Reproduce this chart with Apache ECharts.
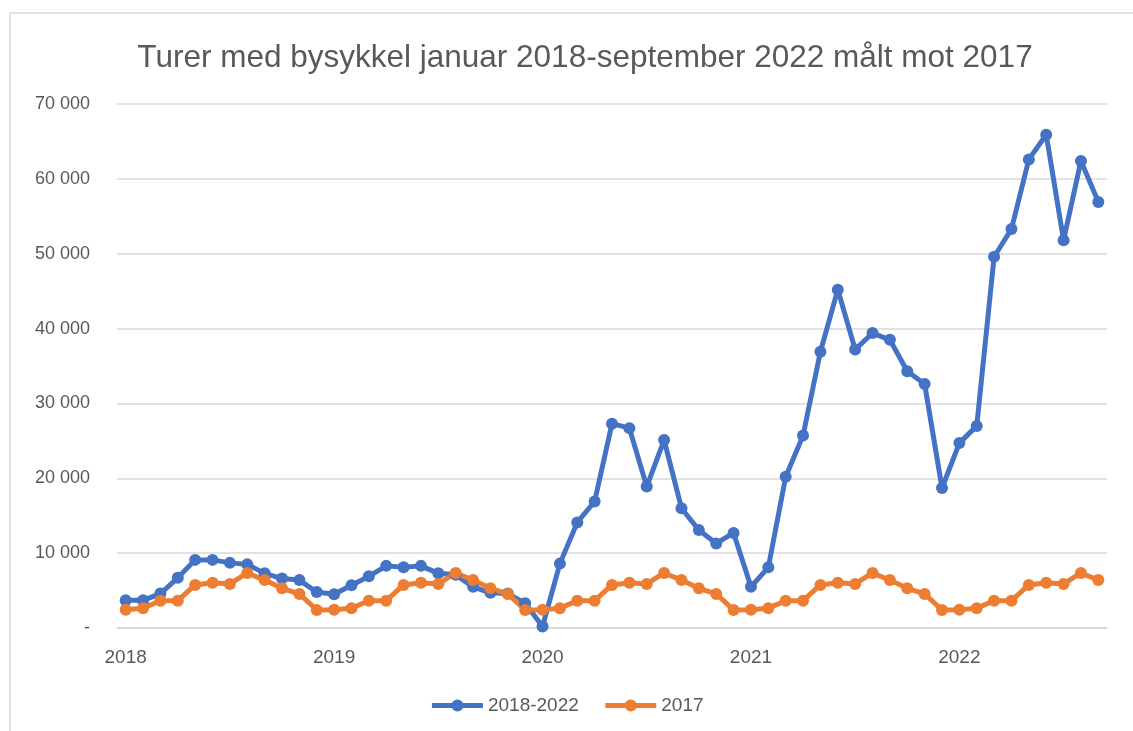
<!DOCTYPE html>
<html>
<head>
<meta charset="utf-8">
<title>Turer med bysykkel</title>
<script src="https://cdn.jsdelivr.net/npm/echarts@6/dist/echarts.min.js"></script>
<style>
  html, body { margin: 0; padding: 0; background: #fff; }
  #chart { width: 1133px; height: 731px; }
</style>
</head>
<body>
<div id="chart"></div>
<script>
// maaneder jan 2018 - sep 2022
var months = [
  '2018-01','2018-02','2018-03','2018-04','2018-05','2018-06','2018-07','2018-08','2018-09','2018-10','2018-11','2018-12',
  '2019-01','2019-02','2019-03','2019-04','2019-05','2019-06','2019-07','2019-08','2019-09','2019-10','2019-11','2019-12',
  '2020-01','2020-02','2020-03','2020-04','2020-05','2020-06','2020-07','2020-08','2020-09','2020-10','2020-11','2020-12',
  '2021-01','2021-02','2021-03','2021-04','2021-05','2021-06','2021-07','2021-08','2021-09','2021-10','2021-11','2021-12',
  '2022-01','2022-02','2022-03','2022-04','2022-05','2022-06','2022-07','2022-08','2022-09'
];
// turer 2018-2022
var trips = [
  3700, 3700, 4600, 6700, 9100, 9100, 8700, 8500, 7300, 6600, 6400, 4800,
  4500, 5700, 6900, 8300, 8100, 8300, 7300, 7100, 5500, 4700, 4600, 3300,
  200, 8600, 14100, 16900, 27300, 26700, 18900, 25100, 16000, 13100, 11300, 12700,
  5500, 8100, 20200, 25700, 36900, 45200, 37200, 39400, 38500, 34300, 32600, 18700,
  24700, 27000, 49600, 53300, 62600, 65900, 51800, 62400, 56900
];
// 2017 som sammenligning
var trips2017 = [
  2450, 2650, 3650, 3650, 5750, 6050, 5880, 7350, 6400, 5300, 4550, 2400,
  2450, 2650, 3650, 3650, 5750, 6050, 5880, 7350, 6400, 5300, 4550, 2400,
  2450, 2650, 3650, 3650, 5750, 6050, 5880, 7350, 6400, 5300, 4550, 2400,
  2450, 2650, 3650, 3650, 5750, 6050, 5880, 7350, 6400, 5300, 4550, 2400,
  2450, 2650, 3650, 3650, 5750, 6050, 5880, 7350, 6400
];
var seriesNames = ['2018-2022', '2017'];

var textColor = '#595959';
var fontName = 'Liberation Sans';

function fmtY(v) {
  if (v === 0) return '-';
  return String(v).replace(/\B(?=(\d{3})+(?!\d))/g, ' ');
}

var chart = echarts.init(document.getElementById('chart'));
var option = {
  backgroundColor: '#fff',
  animation: false,
  title: {
    text: 'Turer med bysykkel januar 2018-september 2022 målt mot 2017',
    left: 580,
    textAlign: 'center',
    top: 37,
    textStyle: { color: textColor, fontFamily: fontName, fontSize: 31.5, fontWeight: 'normal' }
  },
  graphic: [{
    type: 'rect',
    shape: { x: 10, y: 13, width: 1140, height: 740 },
    style: { fill: 'none', stroke: '#d9d9d9', lineWidth: 1.5 },
    silent: true
  }],
  legend: {
    bottom: 11,
    left: 'center',
    itemWidth: 51,
    itemHeight: 15,
    itemGap: 24,
    lineStyle: { width: 5 },
    textStyle: { color: textColor, fontFamily: fontName, fontSize: 19 },
    data: seriesNames
  },
  grid: { left: 117, right: 26, top: 104, bottom: 103 },
  xAxis: {
    type: 'category',
    data: months,
    boundaryGap: true,
    axisLine: { lineStyle: { color: '#d9d9d9', width: 1.5 } },
    axisTick: { interval: 0, length: 6, lineStyle: { color: '#d9d9d9', width: 1.5 } },
    axisLabel: {
      interval: function (i) { return i % 12 === 0; },
      formatter: function (v) { return v.slice(0, 4); },
      color: textColor, fontFamily: fontName, fontSize: 19, margin: 20
    },
    splitLine: { show: false }
  },
  yAxis: {
    type: 'value',
    min: 0,
    max: 70000,
    interval: 10000,
    axisLine: { show: false },
    axisTick: { show: false },
    axisLabel: { formatter: fmtY, color: textColor, fontFamily: fontName, fontSize: 18, margin: 27 },
    splitLine: { lineStyle: { color: '#d9d9d9', width: 1.5 } }
  },
  series: [
    {
      name: seriesNames[0],
      type: 'line',
      data: trips,
      symbol: 'circle',
      symbolSize: 12,
      showAllSymbol: true,
      color: '#4472C4',
      lineStyle: { width: 5, color: '#4472C4' },
      itemStyle: { color: '#4472C4' }
    },
    {
      name: seriesNames[1],
      type: 'line',
      data: trips2017,
      symbol: 'circle',
      symbolSize: 12,
      showAllSymbol: true,
      color: '#ED7D31',
      lineStyle: { width: 5, color: '#ED7D31' },
      itemStyle: { color: '#ED7D31' }
    }
  ]
};
chart.setOption(option);
</script>
</body>
</html>
